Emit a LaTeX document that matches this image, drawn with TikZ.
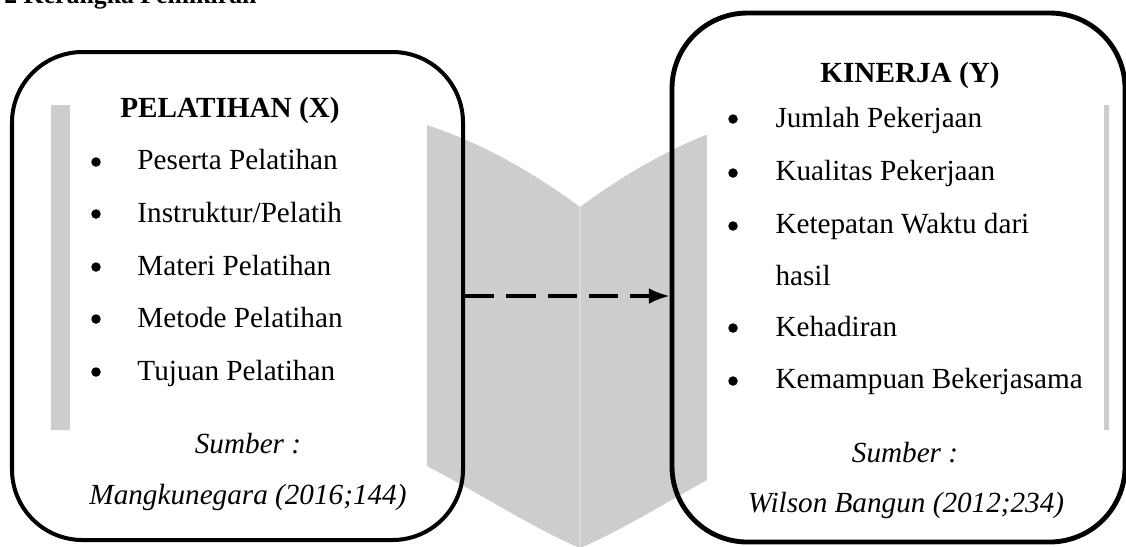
\documentclass[tikz,border=0pt]{standalone}
\usepackage{fontspec}
\setmainfont{Liberation Serif}
\usetikzlibrary{arrows.meta}

\definecolor{bookgray}{RGB}{205,204,206}
\definecolor{spinegray}{RGB}{217,217,219}
\newcommand{\pxu}{0.411pt}
\newcommand{\bodysize}{\fontsize{12pt}{14pt}\selectfont}

\tikzset{
    frame/.style={draw=black, rounded corners=29pt, inner sep=0pt},
    page/.style={fill=bookgray, draw=none},
    cover/.style={fill=white, draw=none},
    ttl/.style={anchor=base, inner sep=0pt, font=\bodysize\bfseries},
    dot/.style={circle, fill=black, inner sep=0pt, minimum size={9.5*\pxu}},
    item/.style={anchor=base west, inner sep=0pt, font=\bodysize},
    src/.style={anchor=base, inner sep=0pt, font=\bodysize\itshape},
    dasharrow/.style={line width=1.3pt, dash pattern=on 12pt off 5pt,
        -{Latex[length=8.5pt, width=6.5pt]}}
}

\begin{document}
\begin{tikzpicture}[x=\pxu, y=-\pxu]
    \useasboundingbox (0,0) rectangle (1126,546);

    % Section heading, cut off at the top
    \node[anchor=base east, inner sep=0pt, font=\fontsize{10.6pt}{12pt}\selectfont\bfseries] (heading) at (257,3) {2 Kerangka Pemikiran};

    % Open book in the background
    \fill[page] (51,105) -- (305,105) .. controls (396.7,105) and (488.3,139) .. (580,207)
        -- (580,548) .. controls (488.3,508.7) and (396.7,430) .. (305,430) -- (51,430) -- cycle;
    \fill[page] (1109,105) -- (855,105) .. controls (763.3,105) and (671.7,139) .. (580,207)
        -- (580,548) .. controls (671.7,508.7) and (763.3,430) .. (855,430) -- (1109,430) -- cycle;
    \draw[spinegray, line width=0.6pt] (580,207) -- (580,548);

    % White text areas
    \fill[cover] (70,100) rectangle (427,470);
    \fill[cover] (707,100) rectangle (1104,480);

    % Variable boxes
    \node[frame, line width=1.65pt, minimum width={451*\pxu}, minimum height={488*\pxu}] (pelatihan) at (237.5,296) {};
    \node[frame, line width=2pt, rounded corners=31pt, minimum width={453*\pxu}, minimum height={529*\pxu}] (kinerja) at (898.5,277.5) {};

    % Indicators of X
    \node[ttl] (xtitle) at (230,117) {PELATIHAN (X)};
    \node[dot] (bx1) at (96,162) {};
    \node[item] (x1) at (137,169) {Peserta Pelatihan};
    \node[dot] (bx2) at (96,214) {};
    \node[item] (x2) at (137,222) {Instruktur/Pelatih};
    \node[dot] (bx3) at (96,267) {};
    \node[item] (x3) at (137,275) {Materi Pelatihan};
    \node[dot] (bx4) at (96,319) {};
    \node[item] (x4) at (137,327) {Metode Pelatihan};
    \node[dot] (bx5) at (96,372) {};
    \node[item] (x5) at (137,380) {Tujuan Pelatihan};
    \node[src] (xsrc1) at (248,453) {Sumber :};
    \node[src] (xsrc2) at (248,504) {Mangkunegara (2016;144)};

    % Indicators of Y
    \node[ttl] (ytitle) at (910,82) {KINERJA (Y)};
    \node[dot] (by1) at (733,119) {};
    \node[item] (y1) at (775,127) {Jumlah Pekerjaan};
    \node[dot] (by2) at (733,173) {};
    \node[item] (y2) at (775,180) {Kualitas Pekerjaan};
    \node[dot] (by3) at (733,226) {};
    \node[item] (y3) at (775,233) {Ketepatan Waktu dari};
    \node[item] (y3b) at (775,285) {hasil};
    \node[dot] (by4) at (733,328) {};
    \node[item] (y4) at (775,336) {Kehadiran};
    \node[dot] (by5) at (733,381) {};
    \node[item] (y5) at (775,388) {Kemampuan Bekerjasama};
    \node[src] (ysrc1) at (905,462) {Sumber :};
    \node[src] (ysrc2) at (906,512) {Wilson Bangun (2012;234)};

    % Relation X -> Y
    \draw[dasharrow] (pelatihan.east) -- (pelatihan.east -| kinerja.west);
\end{tikzpicture}
\end{document}
